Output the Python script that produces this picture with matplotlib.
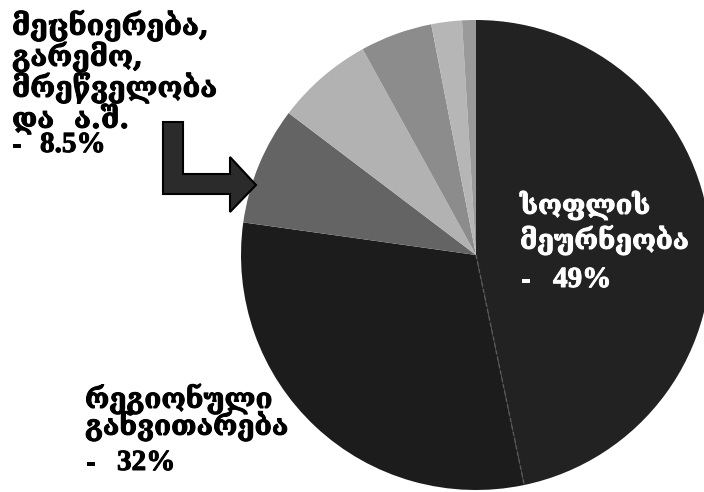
import numpy as np
import matplotlib.pyplot as plt
import matplotlib.patheffects as pe
from matplotlib.patches import Polygon

# sector shares (%), drawn clockwise from the top
shares = [49, 32, 8.5, 7.0, 5.2, 2.2, 1.0]
colors = ['#222222', '#1c1c1c', '#646464', '#b2b2b2', '#8c8c8c', '#b6b6b6', '#9a9a9a']

label_science = ['მეცნიერება,', 'გარემო,', 'მრეწველობა', 'და  ა.შ.']
label_farming = ['სოფლის', 'მეურნეობა']
label_regional = ['რეგიონული', 'განვითარება']
pct_science = '8.5%'
pct_farming = '49%'
pct_regional = '32%'

W, H = 704, 492
fig = plt.figure(figsize=(W / 100, H / 100), dpi=100)
ax = fig.add_axes([0, 0, 1, 1])

cx, cy, r = 476, H - 255, 235
wedges, _ = ax.pie(shares, colors=colors, startangle=90, counterclock=False,
                   center=(cx, cy), radius=r, frame=True,
                   wedgeprops=dict(linewidth=0, antialiased=True))
ax.set_xlim(0, W)
ax.set_ylim(0, H)
ax.axis('off')

# faint dashed seam between the two dark sectors
theta = np.deg2rad(90 - 360 * shares[0] / sum(shares))
ax.plot([cx, cx + r * np.cos(theta)], [cy, cy + r * np.sin(theta)],
        ls=(0, (3, 2)), color='#5a5a5a', lw=1)

geo = dict(family=['DejaVu Serif', 'DejaVu Sans'], weight='bold')
num = dict(family=['Liberation Serif', 'DejaVu Serif'], weight='bold')


def put(x, y, s, color, size, font):
    # y is the baseline, in pixels from the top
    ax.text(x, H - y, s, color=color, fontsize=size, va='baseline', ha='left',
            path_effects=[pe.withStroke(linewidth=0.7, foreground=color)], **font)


def block(x, baselines, lines, color, size):
    for y, s in zip(baselines, lines):
        put(x, y, s, color, size, geo)


def pct_line(x, pct_x, y, pct, color):
    put(x, y, '-', color, 20, num)
    put(pct_x, y, pct, color, 21, num)


block(12, [35, 66, 97, 128], label_science, 'black', 20.5)
pct_line(12, 40, 152, pct_science, 'black')

block(520, [214, 249], label_farming, 'white', 19.5)
pct_line(521, 553, 287, pct_farming, 'white')

block(85, [408, 435], label_regional, 'black', 20)
pct_line(86, 117, 470, pct_regional, 'black')

# bent arrow pointing into the 8.5% sector
arrow = [(163, 122), (183, 122), (183, 174), (230, 174), (230, 157), (256, 185),
         (230, 212), (230, 194), (163, 194)]
ax.add_patch(Polygon([(x, H - y) for x, y in arrow], closed=True,
                     facecolor='#2b2b2b', edgecolor='black', lw=1.5, zorder=5))

fig.savefig('out.png', dpi=100)
